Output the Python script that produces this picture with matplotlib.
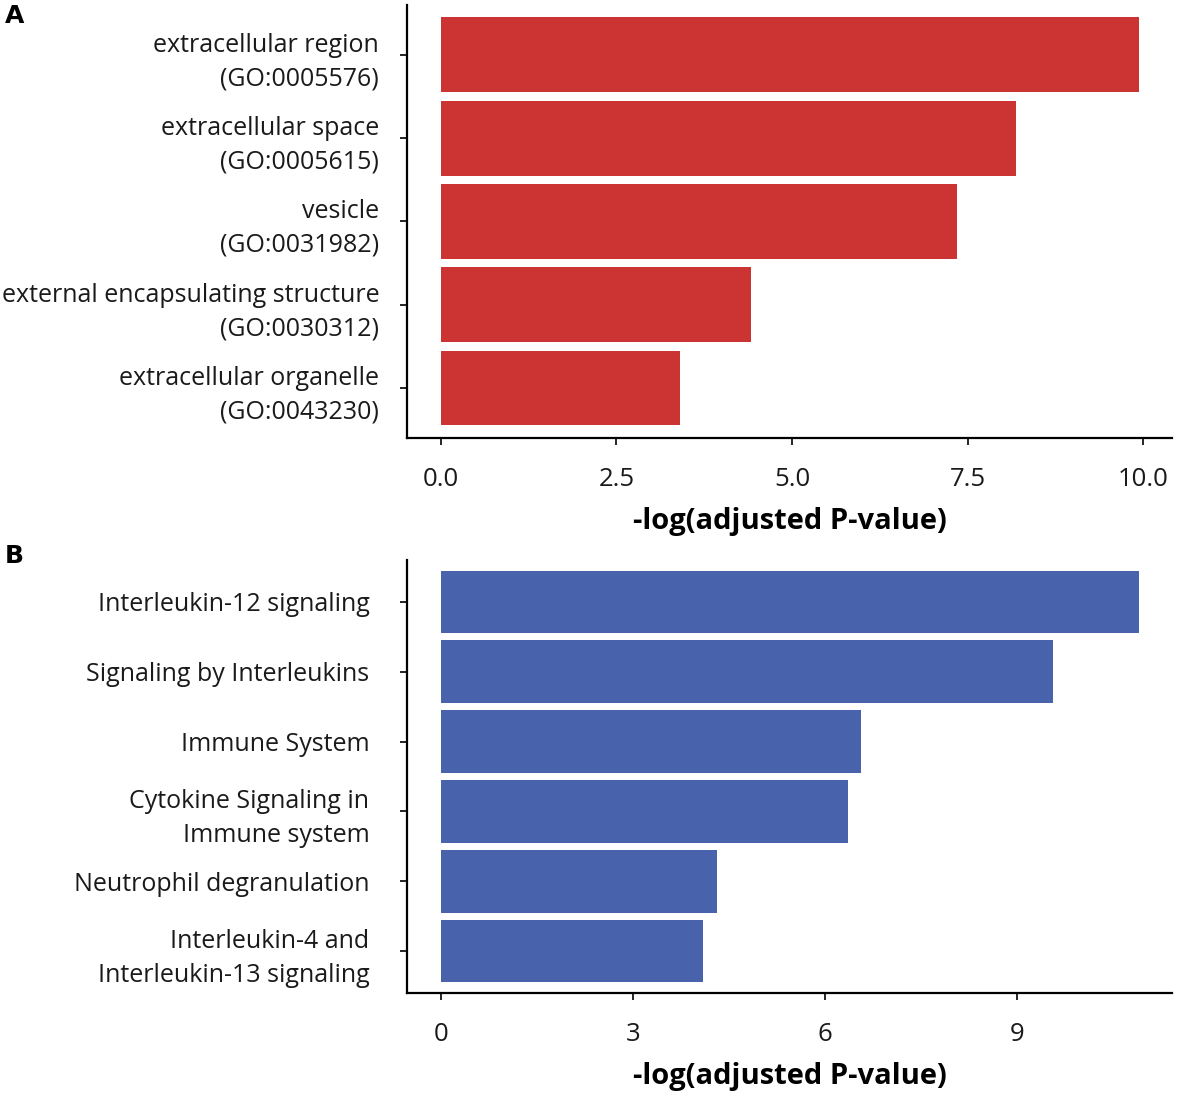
import matplotlib
matplotlib.use('Agg')
import matplotlib.pyplot as plt
import numpy as np

plt.rcParams['font.family'] = ['Open Sans', 'DejaVu Sans']

# panel A: GO cellular component
go_terms = ['extracellular region\n(GO:0005576)',
            'extracellular space\n(GO:0005615)',
            'vesicle\n(GO:0031982)',
            'external encapsulating structure\n(GO:0030312)',
            'extracellular organelle\n(GO:0043230)']
go_values = [9.94, 8.19, 7.35, 4.42, 3.40]
go_ticks = [0.0, 2.5, 5.0, 7.5, 10.0]
go_ticklabels = ['0.0', '2.5', '5.0', '7.5', '10.0']

# panel B: Reactome pathways
path_terms = ['Interleukin-12 signaling',
              'Signaling by Interleukins',
              'Immune System',
              'Cytokine Signaling in\nImmune system',
              'Neutrophil degranulation',
              'Interleukin-4 and\nInterleukin-13 signaling']
path_values = [10.9, 9.56, 6.56, 6.36, 4.31, 4.09]
path_ticks = [0, 3, 6, 9]
path_ticklabels = ['0', '3', '6', '9']

xlabel = '-log(adjusted P-value)'

fig = plt.figure(figsize=(11.81, 10.99), dpi=100)
ax1 = fig.add_axes([0.3446, 0.6015, 0.6478, 0.3940])
ax2 = fig.add_axes([0.3446, 0.0965, 0.6478, 0.3939])


def draw(ax, terms, values, color, ticks, ticklabels, xlim, ypad):
    y = np.arange(len(terms))
    ax.barh(y, values, height=0.9, color=color)
    ax.set_yticks(y)
    ax.set_yticklabels(terms, fontsize=18, color='#1a1a1a', linespacing=1.45)
    ax.set_ylim(len(terms) - 0.4, -0.6)
    ax.set_xlim(*xlim)
    ax.set_xticks(ticks)
    ax.set_xticklabels(ticklabels, fontsize=18.5, color='#1a1a1a')
    ax.set_xlabel(xlabel, fontsize=21, fontweight='bold', labelpad=11)
    for s in ['top', 'right']:
        ax.spines[s].set_visible(False)
    for s in ['left', 'bottom']:
        ax.spines[s].set_linewidth(1.6)
    ax.tick_params(axis='both', length=5, width=1.2, direction='out')
    ax.tick_params(axis='y', pad=ypad)
    ax.tick_params(axis='x', pad=16)


draw(ax1, go_terms, go_values, '#cc3333', go_ticks, go_ticklabels, (-0.48, 10.41), 15)
draw(ax2, path_terms, path_values, '#4862ac', path_ticks, path_ticklabels, (-0.53, 11.42), 22)

fig.text(0.004, 0.985, 'A', fontsize=18, fontweight='bold', family='DejaVu Sans', va='center')
fig.text(0.004, 0.494, 'B', fontsize=18, fontweight='bold', family='DejaVu Sans', va='center')

fig.savefig('out.png', dpi=100)
